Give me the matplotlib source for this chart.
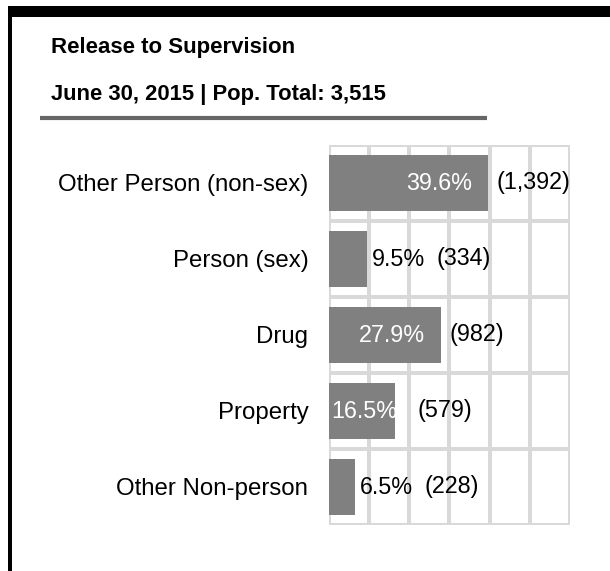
import matplotlib
matplotlib.use("Agg")
import matplotlib.pyplot as plt
from matplotlib.patches import Rectangle
from matplotlib.lines import Line2D

plt.rcParams['font.family'] = ['Liberation Sans', 'DejaVu Sans']

title_line1 = "Release to Supervision"
title_line2 = "June 30, 2015 | Pop. Total: 3,515"
categories = ["Other Person (non-sex)", "Person (sex)", "Drug", "Property", "Other Non-person"]
percents = [39.6, 9.5, 27.9, 16.5, 6.5]
counts = [1392, 334, 982, 579, 228]
x_ticks = [0, 10, 20, 30, 40, 50, 60]

W, H = 610, 571
fig = plt.figure(figsize=(W / 100, H / 100), dpi=100)
fig.patch.set_facecolor("white")

def fx(px):
    return px / W

def fy(py):
    return 1 - py / H

# decorative black frame (top band and left bar)
fig.add_artist(Rectangle((fx(7.5), fy(17)), fx(W) - fx(7.5), fy(6) - fy(17),
                         transform=fig.transFigure, facecolor="black", edgecolor="none"))
fig.add_artist(Rectangle((fx(7.5), fy(H)), fx(4.5), fy(6) - fy(H),
                         transform=fig.transFigure, facecolor="black", edgecolor="none"))

# titles
fig.text(fx(51), fy(53), title_line1, fontsize=16, fontweight="bold", va="baseline", ha="left")
fig.text(fx(51), fy(100), title_line2, fontsize=15.8, fontweight="bold", va="baseline", ha="left")
fig.add_artist(Line2D([fx(40), fx(487)], [fy(118), fy(118)], transform=fig.transFigure,
                      color="#666666", lw=3.0, solid_capstyle="butt"))

# axes
ax = fig.add_axes([fx(328.5), fy(525), (570 - 328.5) / W, 380 / H])
n = len(categories)
ax.set_xlim(x_ticks[0], x_ticks[-1])
ax.set_ylim(n - 0.5, -0.5)
for s in ax.spines.values():
    s.set_visible(False)
grid_color = "#d9d9d9"
ax.vlines(x_ticks, -0.5, n - 0.5, colors=grid_color, lw=2.9, zorder=1)
ax.hlines([i - 0.5 for i in range(n + 1)], x_ticks[0], x_ticks[-1], colors=grid_color, lw=2.9, zorder=1)

ypos = list(range(n))
ax.barh(ypos, percents, height=0.73, color="#808080", zorder=2)
ax.set_xticks([])
ax.set_yticks(ypos)
ax.set_yticklabels(categories, fontsize=17.3)
ax.tick_params(axis="y", length=0, pad=14.5)

fig.canvas.draw()
renderer = fig.canvas.get_renderer()
inv = ax.transData.inverted()

def px_to_data_x(xpx, y):
    return inv.transform((xpx, ax.transData.transform((0, y))[1]))[0]

FS = 16.8
bar_start_px = ax.transData.transform((0, 0))[0]
for i, (p, c) in enumerate(zip(percents, counts)):
    end_px = ax.transData.transform((p, i))[0]
    label = f"{p:.1f}%"
    if p >= 15:
        t = ax.text(px_to_data_x(end_px - 16, i), i, label, color="white", fontsize=FS,
                    ha="right", va="center", zorder=3)
        bb = t.get_window_extent(renderer)
        if bb.x0 < bar_start_px + 3:
            t.set_position((px_to_data_x(bar_start_px + 3, i), i))
            t.set_ha("left")
            bb = t.get_window_extent(renderer)
            right = max(end_px, bb.x1) + 20
        else:
            right = end_px + 9
    else:
        t = ax.text(px_to_data_x(end_px + 5, i), i, label, color="black", fontsize=FS,
                    ha="left", va="center", zorder=3)
        bb = t.get_window_extent(renderer)
        right = bb.x1 + 12
    ax.text(px_to_data_x(right, i), i, f"({c:,})", color="black", fontsize=FS,
            ha="left", va="center", zorder=3, clip_on=False)

fig.savefig("out.png", dpi=100, facecolor="white")
